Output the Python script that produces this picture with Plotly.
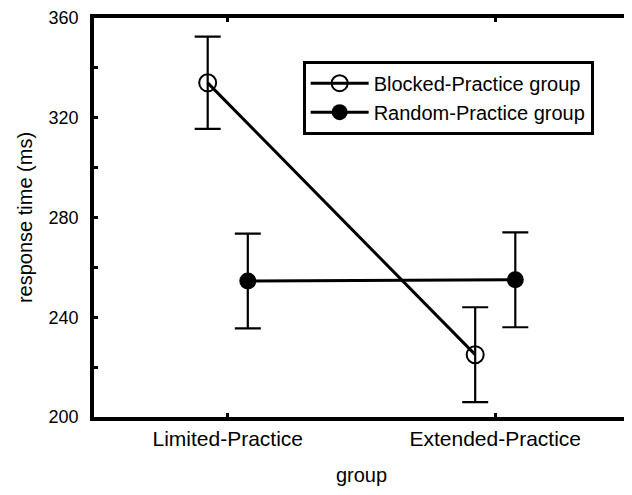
import plotly.graph_objects as go

groups = ["Limited-Practice", "Extended-Practice"]
blocked_mean = [334, 225]
blocked_err = [18.5, 19]
random_mean = [254.5, 255]
random_err = [19, 19]

FONT = "Liberation Sans, Arial, sans-serif"

fig = go.Figure()
fig.add_trace(go.Scatter(
    x=groups, y=blocked_mean, name="Blocked-Practice group",
    mode="lines+markers", offsetgroup="blocked",
    line=dict(color="black", width=3),
    marker=dict(symbol="circle-open", size=17, color="black", line=dict(width=2, color="black")),
    error_y=dict(type="data", array=blocked_err, visible=True, color="black", thickness=2.2, width=13),
))
fig.add_trace(go.Scatter(
    x=groups, y=random_mean, name="Random-Practice group",
    mode="lines+markers", offsetgroup="random",
    line=dict(color="black", width=3),
    marker=dict(symbol="circle", size=17, color="black"),
    error_y=dict(type="data", array=random_err, visible=True, color="black", thickness=2.2, width=13),
))

# page body has an 8px margin, so the figure is sized/offset to compensate
fig.update_layout(
    width=624, height=487,
    margin=dict(l=86, r=3, t=10, b=78),
    paper_bgcolor="white", plot_bgcolor="white",
    font=dict(family=FONT, size=20, color="black"),
    scattermode="group", scattergap=0.7,
    showlegend=True,
    legend=dict(
        x=0.39, y=0.893, xanchor="left", yanchor="top",
        bordercolor="black", borderwidth=3, bgcolor="white",
        font=dict(size=20, color="black"), itemwidth=58,
        tracegroupgap=0,
    ),
)
fig.update_xaxes(
    type="category", range=[-0.5, 1.5], automargin=False,
    showline=True, linecolor="black", linewidth=3.5, mirror="allticks",
    ticks="inside", ticklen=4, tickwidth=3, tickcolor="black",
    showgrid=False, zeroline=False,
    tickfont=dict(size=21),
    title=dict(text="group", font=dict(size=20), standoff=20),
)
fig.update_yaxes(
    range=[200, 360], tickvals=[200, 240, 280, 320, 360], automargin=False,
    showline=True, linecolor="black", linewidth=3.5, mirror="allticks",
    ticks="inside", ticklen=4, tickwidth=3, tickcolor="black",
    minor=dict(ticks="inside", ticklen=4, tickwidth=3, tickcolor="black", dtick=20, showgrid=False),
    showgrid=False, zeroline=False,
    tickfont=dict(size=18), ticklabelstandoff=8,
    title=dict(text="response time (ms)", font=dict(size=20), standoff=12),
)

fig.write_html("out.html")
